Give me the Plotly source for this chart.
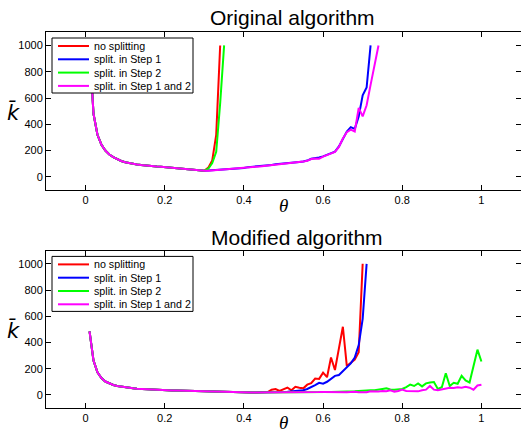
import plotly.graph_objects as go

# ---------------- data ----------------
theta_step = 0.01

# Original algorithm (top)
orig_common = [1000, 480, 320, 245, 200, 170, 150, 133, 121, 111,
               104, 98, 94, 90, 86, 83, 80, 78, 76, 73,
               70, 67, 64, 61, 58, 55, 52, 50, 48, 47]
orig_red_tail = [70, 125, 320, 1000]
orig_green_tail = [62, 105, 190, 560, 1000]
orig_blue_tail = [48, 50, 53, 55, 56, 58, 61, 63, 66, 68,
                  74, 76, 78, 82, 84, 86, 90, 96, 98, 100,
                  102, 106, 110, 113, 117, 124, 138, 142, 148, 156,
                  168, 180, 192, 232, 290, 345, 378, 365, 460, 620,
                  680, 1000]
orig_magenta_tail = [47, 49, 52, 54, 55, 57, 60, 62, 64, 67,
                     72, 74, 76, 79, 82, 84, 86, 92, 96, 99,
                     101, 104, 108, 112, 116, 122, 136, 140, 138, 154,
                     166, 178, 190, 228, 292, 340, 360, 345, 525, 460,
                     545, 700, 850, 1000]

# Modified algorithm (bottom)
mod_common = [484, 262, 172, 128, 102, 87, 76, 68, 62, 57,
              53, 50, 47, 45, 43, 41, 40, 38, 37, 36,
              35, 34, 33, 32, 30, 29, 28, 27, 26, 25,
              24, 24, 23, 22, 22, 21, 21, 20, 20, 19,
              19, 18, 18, 18, 17]
mod_red_tail = [22, 40, 45, 30, 45, 55, 35, 62, 55, 50,
                78, 90, 125, 122, 170, 135, 285, 190, 355, 520,
                220, 245, 270, 325, 1000]
mod_blue_tail = [17, 18, 19, 20, 22, 24, 26, 28, 32, 36,
                 45, 58, 75, 92, 86, 100, 125, 145, 152, 180,
                 212, 240, 285, 380, 580, 1000]
mod_green_tail = [17, 17, 18, 18, 18, 19, 19, 19, 20, 20,
                  20, 21, 21, 21, 22, 22, 23, 23, 24, 25,
                  26, 27, 28, 30, 30, 32, 35, 36, 38, 45,
                  50, 42, 40, 42, 45, 60, 78, 68, 88, 65,
                  88, 95, 98, 45, 58, 165, 68, 92, 85, 145,
                  110, 95, 220, 345, 255]
mod_magenta_tail = [17, 17, 18, 18, 18, 19, 19, 20, 20, 20,
                    21, 21, 22, 22, 23, 22, 22, 23, 22, 21,
                    20, 22, 24, 20, 22, 20, 28, 25, 25, 30,
                    28, 35, 25, 30, 40, 30, 28, 25, 27, 35,
                    40, 68, 40, 35, 40, 45, 55, 52, 58, 55,
                    62, 55, 40, 72, 78]

series_names = ["no splitting", "split. in Step 1", "split. in Step 2", "split. in Step 1 and 2"]
series_colors = ["#ff0000", "#0000ff", "#00ff00", "#ff00ff"]

orig_series = [orig_common + orig_red_tail,
               orig_common + orig_blue_tail,
               orig_common + orig_green_tail,
               orig_common + orig_magenta_tail]
mod_series = [mod_common + mod_red_tail,
              mod_common + mod_blue_tail,
              mod_common + mod_green_tail,
              mod_common + mod_magenta_tail]

panel_titles = ["Original algorithm", "Modified algorithm"]
xtick_vals = [0, 0.2, 0.4, 0.6, 0.8, 1]
xtick_text = ["0", "0.2", "0.4", "0.6", "0.8", "1"]
ytick_vals = [0, 200, 400, 600, 800, 1000]
ytick_text = ["0", "200", "400", "600", "800", "1000"]

# ---------------- layout geometry ----------------
W, H = 521, 433
def px_x(p):
    return p / W
def px_y(p):
    return 1 - p / H

panels = [
    dict(top=32.3, bottom=190.0, title_y=18, title_x=292.5, theta_y=206, k_y=112),
    dict(top=250.7, bottom=408.0, title_y=237.5, title_x=297, theta_y=422, k_y=330),
]
left_px = 46

fig = go.Figure()
shapes = []
annotations = []

for pi, (data, panel) in enumerate(zip([orig_series, mod_series], panels)):
    xa = "x" if pi == 0 else "x2"
    ya = "y" if pi == 0 else "y2"
    for name, color, vals in zip(series_names, series_colors, data):
        theta = [round((i + 1) * theta_step, 2) for i in range(len(vals))]
        fig.add_trace(go.Scatter(x=theta, y=vals, mode="lines", name=name,
                                 line=dict(color=color, width=2),
                                 xaxis=xa, yaxis=ya, showlegend=False,
                                 hoverinfo="skip"))
    axis_common = dict(showline=True, linecolor="black", linewidth=1, mirror="ticks",
                       ticks="inside", ticklen=5, tickcolor="black", tickwidth=1,
                       showgrid=False, zeroline=False,
                       tickfont=dict(family="Liberation Sans, Arial", size=11, color="black"))
    xkey = "xaxis" if pi == 0 else "xaxis2"
    ykey = "yaxis" if pi == 0 else "yaxis2"
    fig.layout[xkey] = dict(range=[-0.1, 1.1], tickmode="array", tickvals=xtick_vals,
                            ticktext=xtick_text, domain=[px_x(left_px), 1], anchor=ya,
                            **axis_common)
    fig.layout[ykey] = dict(range=[-100, 1100], tickmode="array", tickvals=ytick_vals,
                            ticktext=ytick_text,
                            domain=[px_y(panel["bottom"]), px_y(panel["top"])], anchor=xa,
                            **axis_common)

    # titles and axis labels
    annotations.append(dict(text=panel_titles[pi], x=px_x(panel["title_x"]), y=px_y(panel["title_y"]),
                            xref="paper", yref="paper", xanchor="center", yanchor="middle",
                            showarrow=False,
                            font=dict(family="Liberation Sans, Arial", size=21, color="black")))
    annotations.append(dict(text="<i>θ</i>", x=px_x(283), y=px_y(panel["theta_y"]),
                            xref="paper", yref="paper", xanchor="center", yanchor="middle",
                            showarrow=False,
                            font=dict(family="Liberation Serif, Times New Roman", size=19, color="black")))
    annotations.append(dict(text="<i>k\u0304</i>", x=px_x(13), y=px_y(panel["k_y"]),
                            xref="paper", yref="paper", xanchor="center", yanchor="middle",
                            showarrow=False,
                            font=dict(family="DejaVu Sans", size=21, color="black")))

    # legend box (drawn manually to match the compact legend of the reference)
    box_top = panel["top"] + 5.7
    shapes.append(dict(type="rect", xref="paper", yref="paper",
                       x0=px_x(52), x1=px_x(193), y0=px_y(box_top + 55), y1=px_y(box_top),
                       line=dict(color="black", width=1), fillcolor="white", layer="above"))
    for j, (name, color) in enumerate(zip(series_names, series_colors)):
        ry = box_top + 8 + j * 13.3
        shapes.append(dict(type="line", xref="paper", yref="paper",
                           x0=px_x(58), x1=px_x(89), y0=px_y(ry), y1=px_y(ry),
                           line=dict(color=color, width=2), layer="above"))
        annotations.append(dict(text=name, x=px_x(92), y=px_y(ry), xref="paper", yref="paper",
                                xanchor="left", yanchor="middle", showarrow=False,
                                font=dict(family="Liberation Sans, Arial", size=10.7, color="black")))

fig.update_layout(width=W, height=H, margin=dict(l=0, r=0, t=0, b=0, pad=0),
                  template="none", paper_bgcolor="white", plot_bgcolor="white",
                  shapes=shapes, annotations=annotations, showlegend=False)

fig.write_html("out.html", config={"displayModeBar": False},
               post_script="document.body.style.margin='0';document.body.style.overflow='hidden';")
